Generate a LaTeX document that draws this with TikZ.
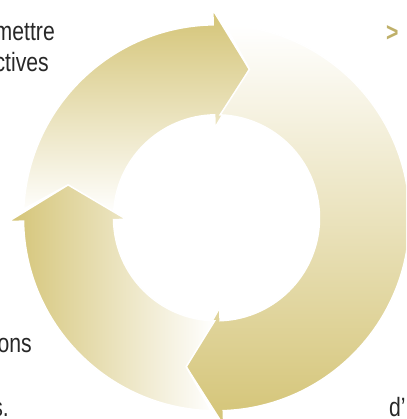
\documentclass[tikz,border=0pt]{standalone}
\usepackage{fontspec}
\setmainfont[FakeStretch=0.8]{Liberation Sans}
\definecolor{gold}{RGB}{212,196,118}
\definecolor{txt}{RGB}{40,40,40}
\def\rin{103pt}
\def\rout{193pt}
\def\rmid{152pt}
\def\bin{90pt}
\def\bout{208pt}
\def\tipd{13.5}

% one arrow of the cycle: #1 head angle of the arrow before, #2 own head angle
\newcommand{\cyclepath}[2]{%
  (#1-3.6:\rout) arc[start angle=#1-3.6, end angle=#2, radius=\rout]
  -- (#2:\bout) -- (#2-\tipd:\rmid) -- (#2:\bin) -- (#2:\rin)
  arc[start angle=#2, end angle=#1-3, radius=\rin]
  -- (#1-\tipd:\rmid) -- cycle}

\tikzset{
  cyclearrow/.style={draw=white, line width=1.5pt},
  sidetext/.style={font=\fontsize{26.5}{32}\selectfont, text=txt, inner sep=0pt}
}

\begin{document}
\begin{tikzpicture}[x=1pt, y=-1pt]
            \useasboundingbox (0, 0) rectangle (406, 419);
            \clip (0, 0) rectangle (406, 419);

            \begin{scope}[shift={(216.5, 217.8)}]
                \path[cyclearrow, top color=gold, bottom color=white] \cyclepath{181}{91};
                \path[cyclearrow, top color=white, bottom color=gold] \cyclepath{91}{-88};
                \path[cyclearrow, left color=gold, right color=white] \cyclepath{272}{181};
            \end{scope}

            \node[sidetext, anchor=base east] (mettre) at (55, 41) {mettre};
            \node[sidetext, anchor=base east] (ctives) at (49, 72) {ctives};
            \node[sidetext, anchor=base east] (ons) at (32, 352) {ons};
            \node[sidetext, anchor=base east] (fin) at (9, 416) {s.};
            \node[sidetext, anchor=base west] (dapo) at (389, 416) {d’};
            \node[sidetext, anchor=base west, text=gold!90!black] (puce) at (386, 42) {\bfseries >};
        \end{tikzpicture}
\end{document}
